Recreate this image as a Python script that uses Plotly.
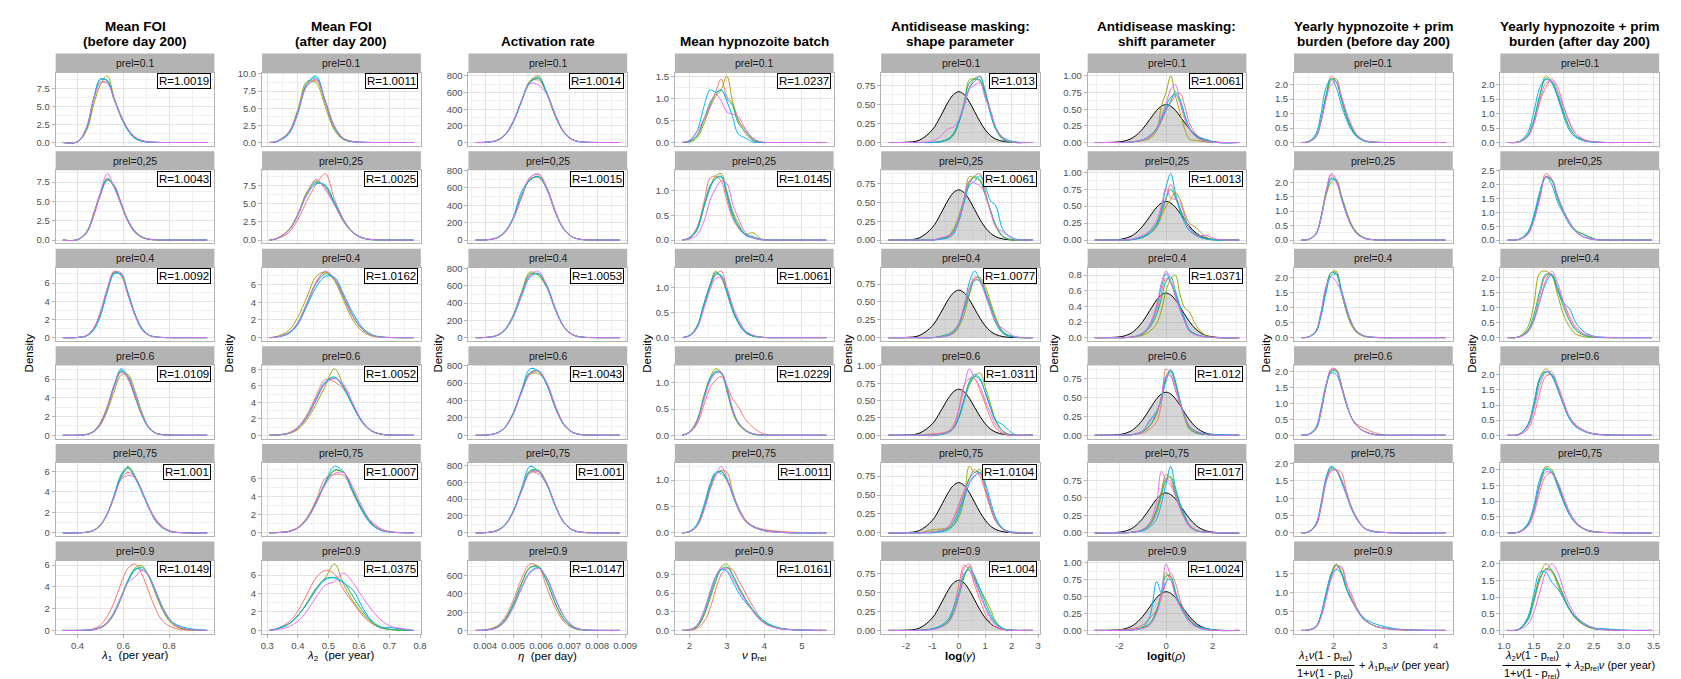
import math
import plotly.graph_objects as go

W, H = 1681, 679
FONT = "Liberation Sans, Arial, sans-serif"
CHAIN_COLORS = ["#F8766D", "#A3A500", "#00BF7D", "#00B0F6", "#E76BF3"]
PREL_LABELS = ["prel=0.1", "prel=0,25", "prel=0.4", "prel=0.6", "prel=0,75", "prel=0.9"]
TITLES = [["Mean FOI", "(before day 200)"], ["Mean FOI", "(after day 200)"],
          ["", "Activation rate"], ["", "Mean hypnozoite batch"],
          ["Antidisease masking:", "shape parameter"], ["Antidisease masking:", "shift parameter"],
          ["Yearly hypnozoite + prim", "burden (before day 200)"],
          ["Yearly hypnozoite + prim", "burden (after day 200)"]]

# ---------------- column 1 : lambda1 ----------------
LAM1_XRANGE = [0.336, 0.966]
LAM1_GRID = [0.40, 0.44, 0.47, 0.50, 0.53, 0.56, 0.59, 0.62, 0.65, 0.68, 0.71, 0.74, 0.77, 0.81, 0.86]
LAM1_DENS = [
    [[0.1, 2.0, 5.9, 8.3, 8.3, 6.1, 3.7, 1.8, 0.7, 0.25, 0.08, 0.02, 0, 0, 0],
     [0.1, 1.7, 5.2, 8.0, 9.2, 6.2, 3.5, 1.7, 0.6, 0.2, 0.05, 0.01, 0, 0, 0],
     [0.1, 2.1, 6.1, 8.7, 8.6, 5.9, 3.5, 1.7, 0.6, 0.2, 0.05, 0.01, 0, 0, 0],
     [0.1, 2.0, 6.0, 8.8, 8.5, 6.0, 3.6, 1.7, 0.6, 0.2, 0.06, 0.01, 0, 0, 0],
     [0.1, 2.2, 6.0, 8.3, 8.2, 5.9, 3.7, 1.9, 0.8, 0.3, 0.1, 0.03, 0, 0, 0]],
    [[0.05, 1.0, 3.0, 5.8, 7.7, 7.1, 4.9, 2.6, 1.2, 0.45, 0.13, 0.04, 0, 0, 0],
     [0.05, 1.1, 3.4, 6.1, 8.0, 6.8, 4.6, 2.4, 1.0, 0.35, 0.1, 0.03, 0, 0, 0],
     [0.05, 1.0, 3.3, 6.0, 7.9, 6.9, 4.7, 2.5, 1.1, 0.4, 0.12, 0.04, 0, 0, 0],
     [0.05, 1.0, 3.3, 6.0, 7.8, 7.0, 4.7, 2.5, 1.1, 0.4, 0.12, 0.04, 0, 0, 0],
     [0.05, 0.9, 3.2, 6.2, 8.6, 6.8, 4.6, 2.4, 1.0, 0.4, 0.12, 0.04, 0, 0, 0]],
    [[0.02, 0.25, 1.0, 2.7, 5.2, 7.2, 7.1, 4.9, 2.6, 1.0, 0.3, 0.08, 0.02, 0, 0],
     [0.02, 0.25, 1.0, 2.8, 5.4, 7.2, 6.8, 4.7, 2.5, 0.9, 0.28, 0.07, 0.02, 0, 0],
     [0.02, 0.2, 0.9, 2.6, 5.2, 7.1, 6.9, 4.8, 2.6, 1.0, 0.3, 0.08, 0.02, 0, 0],
     [0.02, 0.2, 0.8, 2.4, 5.0, 7.0, 7.0, 5.0, 2.7, 1.1, 0.32, 0.08, 0.02, 0, 0],
     [0.02, 0.25, 1.0, 2.8, 5.4, 7.3, 6.9, 4.7, 2.5, 0.95, 0.28, 0.07, 0.02, 0, 0]],
    [[0, 0.1, 0.45, 1.4, 3.1, 5.4, 6.8, 6.0, 4.1, 2.2, 0.85, 0.25, 0.07, 0.01, 0],
     [0, 0.08, 0.35, 1.1, 2.6, 4.7, 6.4, 6.5, 4.8, 2.5, 0.9, 0.25, 0.06, 0.01, 0],
     [0, 0.08, 0.4, 1.25, 3.0, 5.3, 6.9, 6.3, 4.3, 2.2, 0.8, 0.22, 0.06, 0.01, 0],
     [0, 0.08, 0.38, 1.2, 2.9, 5.3, 7.1, 6.2, 4.3, 2.3, 0.85, 0.23, 0.06, 0.01, 0],
     [0, 0.08, 0.38, 1.2, 2.9, 5.1, 6.7, 6.3, 4.5, 2.4, 0.9, 0.25, 0.07, 0.01, 0]],
    [[0, 0.06, 0.25, 0.8, 1.9, 3.6, 5.3, 5.9, 5.5, 4.1, 2.6, 1.4, 0.65, 0.15, 0.02],
     [0, 0.05, 0.22, 0.72, 1.8, 3.5, 5.4, 6.5, 5.6, 4.1, 2.5, 1.2, 0.5, 0.1, 0.01],
     [0, 0.06, 0.24, 0.76, 1.85, 3.6, 5.5, 6.3, 5.5, 4.1, 2.5, 1.25, 0.52, 0.12, 0.01],
     [0, 0.06, 0.24, 0.78, 1.9, 3.7, 5.7, 6.4, 5.4, 4.0, 2.5, 1.2, 0.5, 0.1, 0.01],
     [0, 0.06, 0.24, 0.75, 1.85, 3.5, 5.2, 5.6, 5.4, 4.2, 2.6, 1.3, 0.55, 0.12, 0.01]],
    [[0, 0.04, 0.16, 0.5, 1.3, 2.6, 4.3, 5.7, 6.1, 5.2, 3.6, 2.0, 0.9, 0.3, 0.06],
     [0, 0.01, 0.06, 0.22, 0.63, 1.5, 2.9, 4.5, 5.7, 5.95, 5.0, 3.4, 1.9, 0.65, 0.12],
     [0, 0.02, 0.08, 0.28, 0.72, 1.6, 3.0, 4.5, 5.5, 5.8, 5.0, 3.5, 2.0, 0.75, 0.2],
     [0, 0.02, 0.08, 0.28, 0.75, 1.7, 3.1, 4.6, 5.6, 5.6, 5.0, 3.7, 2.2, 0.85, 0.3],
     [0, 0.02, 0.08, 0.28, 0.72, 1.6, 3.0, 4.4, 4.9, 5.5, 5.1, 3.6, 2.1, 0.8, 0.2]],
]
LAM1_R = [1.0019, 1.0043, 1.0092, 1.0109, 1.001, 1.0149]
LAM1_YSTEP = [2.5, 2.5, 2, 2, 2, 2]
LAM1_XTICKS = [0.4, 0.6, 0.8]
LAM1_XLABELS = ["0.4", "0.6", "0.8"]

# ---------------- column 2 : lambda2 ----------------
LAM2_XRANGE = [0.3065, 0.779]
LAM2_GRID = [0.33, 0.37, 0.40, 0.43, 0.46, 0.49, 0.52, 0.55, 0.58, 0.61, 0.64, 0.67, 0.70, 0.74]
LAM2_DENS = [
    [[0.15, 1.5, 4.6, 8.2, 9.0, 6.1, 2.4, 0.6, 0.15, 0.03, 0, 0, 0, 0],
     [0.15, 1.5, 4.8, 8.9, 8.7, 5.2, 1.8, 0.4, 0.1, 0.02, 0, 0, 0, 0],
     [0.12, 1.3, 4.5, 8.6, 9.4, 5.8, 2.1, 0.5, 0.12, 0.02, 0, 0, 0, 0],
     [0.1, 1.2, 4.2, 8.6, 9.7, 6.0, 2.2, 0.55, 0.13, 0.03, 0, 0, 0, 0],
     [0.15, 1.4, 4.5, 8.3, 9.2, 5.9, 2.3, 0.6, 0.15, 0.03, 0, 0, 0, 0]],
    [[0.15, 1.0, 2.8, 5.4, 7.6, 9.1, 5.6, 2.8, 1.1, 0.35, 0.08, 0.02, 0, 0],
     [0.2, 1.4, 3.6, 6.6, 8.1, 7.2, 4.9, 2.5, 1.0, 0.3, 0.07, 0.02, 0, 0],
     [0.2, 1.3, 3.4, 6.4, 7.9, 7.4, 5.0, 2.6, 1.05, 0.32, 0.07, 0.015, 0, 0],
     [0.2, 1.3, 3.4, 6.2, 7.7, 7.5, 5.2, 2.7, 1.1, 0.33, 0.07, 0.015, 0, 0],
     [0.2, 1.3, 3.5, 6.3, 8.3, 6.9, 4.8, 2.6, 1.05, 0.33, 0.08, 0.02, 0, 0]],
    [[0.08, 0.5, 1.6, 3.8, 6.3, 7.4, 6.7, 4.7, 2.5, 1.0, 0.3, 0.07, 0.02, 0],
     [0.12, 0.8, 2.3, 4.6, 6.9, 7.4, 6.4, 4.2, 2.0, 0.75, 0.2, 0.05, 0.01, 0],
     [0.08, 0.55, 1.7, 3.9, 6.1, 7.2, 6.6, 4.5, 2.4, 1.0, 0.3, 0.07, 0.02, 0],
     [0.06, 0.45, 1.5, 3.6, 5.7, 6.9, 6.8, 4.9, 2.8, 1.2, 0.38, 0.09, 0.02, 0],
     [0.08, 0.55, 1.7, 3.9, 6.2, 7.5, 6.6, 4.5, 2.4, 1.0, 0.3, 0.07, 0.02, 0]],
    [[0.04, 0.3, 1.0, 2.5, 4.8, 6.8, 6.5, 5.6, 3.6, 1.6, 0.55, 0.15, 0.03, 0],
     [0.02, 0.2, 0.7, 1.9, 3.8, 6.0, 8.1, 6.0, 3.7, 1.7, 0.55, 0.13, 0.02, 0],
     [0.03, 0.24, 0.85, 2.2, 4.3, 6.4, 7.1, 5.8, 3.6, 1.65, 0.58, 0.15, 0.03, 0],
     [0.03, 0.25, 0.9, 2.3, 4.5, 6.5, 7.0, 5.8, 3.6, 1.65, 0.57, 0.15, 0.03, 0],
     [0.03, 0.24, 0.85, 2.2, 4.3, 6.3, 6.9, 6.2, 3.9, 1.8, 0.6, 0.16, 0.03, 0]],
    [[0.03, 0.18, 0.6, 1.7, 3.6, 6.0, 6.4, 6.3, 4.4, 2.5, 1.3, 0.5, 0.15, 0.03],
     [0.02, 0.14, 0.52, 1.5, 3.4, 5.4, 6.8, 6.6, 4.7, 2.6, 1.1, 0.35, 0.09, 0.02],
     [0.02, 0.15, 0.55, 1.55, 3.35, 5.5, 6.9, 6.6, 4.6, 2.6, 1.05, 0.33, 0.09, 0.02],
     [0.02, 0.14, 0.54, 1.5, 3.3, 5.6, 7.3, 6.7, 4.5, 2.4, 0.95, 0.3, 0.08, 0.02],
     [0.02, 0.15, 0.54, 1.5, 3.2, 5.3, 6.5, 6.6, 5.0, 2.9, 1.2, 0.38, 0.1, 0.02]],
    [[0.18, 0.9, 2.1, 3.9, 5.7, 6.5, 6.1, 4.4, 3.0, 1.7, 0.8, 0.3, 0.12, 0.04],
     [0.15, 0.7, 1.6, 3.0, 4.6, 5.7, 7.2, 5.0, 3.2, 1.9, 0.85, 0.3, 0.1, 0.03],
     [0.15, 0.7, 1.6, 2.9, 4.4, 5.5, 5.7, 5.2, 3.7, 2.2, 1.0, 0.35, 0.12, 0.03],
     [0.15, 0.7, 1.6, 2.9, 4.5, 5.6, 5.7, 5.1, 4.4, 2.6, 1.1, 0.4, 0.32, 0.15],
     [0.08, 0.4, 1.0, 2.1, 3.6, 4.9, 5.3, 6.2, 5.2, 3.7, 2.3, 1.2, 0.5, 0.2]],
]
LAM2_R = [1.0011, 1.0025, 1.0162, 1.0052, 1.0007, 1.0375]
LAM2_YSTEP = [2.5, 2.5, 2, 2, 2, 2]
LAM2_XTICKS = [0.3, 0.4, 0.5, 0.6, 0.7, 0.8]
LAM2_XLABELS = ["0.3", "0.4", "0.5", "0.6", "0.7", "0.8"]

# ---------------- column 3 : eta ----------------
ETA_XRANGE = [0.003658, 0.008815]
ETA_GRID = [0.0040, 0.0044, 0.0047, 0.0050, 0.0053, 0.0056, 0.0059, 0.0062, 0.0065, 0.0068, 0.0071, 0.0074, 0.0078, 0.0083]
ETA_DENS = [
    [[2, 24, 90, 250, 500, 735, 750, 600, 340, 135, 40, 9, 1, 0],
     [2, 22, 85, 245, 500, 740, 800, 590, 320, 125, 36, 8, 1, 0],
     [2, 24, 90, 250, 505, 730, 770, 585, 320, 128, 38, 8, 1, 0],
     [2, 23, 88, 245, 495, 720, 785, 600, 330, 130, 38, 8, 1, 0],
     [2, 26, 95, 260, 510, 710, 690, 580, 340, 135, 40, 9, 1, 0]],
    [[2, 22, 85, 240, 490, 715, 765, 610, 340, 135, 40, 9, 1, 0],
     [2, 24, 90, 250, 500, 700, 720, 590, 330, 130, 38, 8, 1, 0],
     [2, 25, 95, 255, 520, 690, 730, 590, 325, 128, 38, 8, 1, 0],
     [2, 25, 95, 260, 560, 690, 735, 585, 320, 125, 37, 8, 1, 0],
     [2, 22, 88, 245, 500, 720, 755, 595, 325, 128, 38, 8, 1, 0]],
    [[2, 24, 92, 255, 510, 720, 740, 590, 330, 130, 38, 8, 1, 0],
     [2, 25, 95, 260, 530, 760, 720, 580, 325, 128, 37, 8, 1, 0],
     [2, 24, 92, 258, 520, 740, 725, 585, 330, 130, 38, 8, 1, 0],
     [2, 20, 82, 235, 480, 700, 745, 610, 345, 135, 40, 9, 1, 0],
     [2, 24, 90, 250, 500, 720, 770, 590, 325, 128, 37, 8, 1, 0]],
    [[2, 24, 90, 255, 510, 720, 740, 580, 320, 125, 37, 8, 1, 0],
     [2, 22, 86, 245, 495, 700, 710, 600, 345, 135, 40, 9, 1, 0],
     [2, 24, 90, 252, 505, 720, 735, 590, 330, 130, 38, 8, 1, 0],
     [2, 24, 92, 255, 520, 765, 740, 580, 318, 122, 35, 8, 1, 0],
     [2, 22, 85, 240, 490, 700, 745, 605, 340, 133, 39, 9, 1, 0]],
    [[2, 24, 90, 250, 505, 720, 700, 570, 330, 130, 40, 9, 1, 0],
     [2, 24, 88, 248, 500, 720, 745, 590, 330, 130, 38, 8, 1, 0],
     [2, 25, 92, 255, 510, 740, 735, 580, 325, 128, 37, 8, 1, 0],
     [2, 26, 95, 260, 530, 790, 730, 575, 320, 125, 36, 8, 1, 0],
     [2, 23, 86, 245, 495, 710, 725, 590, 335, 132, 40, 9, 1, 0]],
    [[6, 46, 142, 330, 570, 730, 700, 470, 250, 100, 30, 7, 1, 0],
     [4, 32, 115, 280, 510, 690, 705, 540, 300, 125, 40, 9, 1, 0],
     [4, 35, 120, 290, 520, 690, 695, 540, 300, 125, 40, 9, 1, 0],
     [3, 28, 100, 260, 470, 640, 690, 575, 350, 160, 50, 12, 2, 0],
     [3, 26, 95, 250, 460, 630, 680, 580, 360, 165, 55, 14, 2, 0]],
]
ETA_R = [1.0014, 1.0015, 1.0053, 1.0043, 1.001, 1.0147]
ETA_YSTEP = [200, 200, 200, 200, 200, 200]
ETA_XTICKS = [0.004, 0.005, 0.006, 0.007, 0.008, 0.009]
ETA_XLABELS = ["0.004", "0.005", "0.006", "0.007", "0.008", "0.009"]

# ---------------- column 4 : nu * prel ----------------
NU_XRANGE = [1.806, 5.655]
NU_GRID = [2.0, 2.2, 2.4, 2.55, 2.7, 2.85, 3.0, 3.15, 3.3, 3.5, 3.7, 3.9, 4.1, 4.4, 4.8]
NU_DENS = [
    [[0.02, 0.15, 0.55, 0.85, 1.15, 1.45, 1.05, 0.9, 0.55, 0.2, 0.05, 0, 0, 0, 0],
     [0.01, 0.1, 0.45, 0.8, 1.05, 1.2, 1.52, 0.95, 0.5, 0.3, 0.08, 0.01, 0, 0, 0],
     [0.02, 0.15, 0.55, 0.9, 1.1, 1.2, 1.0, 0.85, 0.45, 0.25, 0.05, 0, 0, 0, 0],
     [0.03, 0.25, 0.85, 1.2, 1.15, 1.2, 0.95, 0.6, 0.2, 0.1, 0.01, 0, 0, 0, 0],
     [0.05, 0.25, 0.55, 0.8, 1.1, 0.95, 0.7, 0.65, 0.6, 0.3, 0.1, 0.02, 0, 0, 0]],
    [[0.05, 0.25, 0.8, 1.25, 1.3, 1.2, 0.8, 0.45, 0.25, 0.1, 0.05, 0.01, 0, 0, 0],
     [0.03, 0.2, 0.7, 1.05, 1.3, 1.35, 1.0, 0.6, 0.35, 0.12, 0.15, 0.03, 0, 0, 0],
     [0.04, 0.22, 0.72, 1.1, 1.25, 1.28, 0.95, 0.55, 0.3, 0.12, 0.07, 0.02, 0, 0, 0],
     [0.04, 0.2, 0.7, 1.05, 1.25, 1.3, 0.9, 0.5, 0.28, 0.1, 0.04, 0.01, 0, 0, 0],
     [0.02, 0.1, 0.4, 0.8, 1.05, 1.2, 1.15, 0.75, 0.45, 0.15, 0.05, 0.01, 0, 0, 0]],
    [[0.04, 0.2, 0.65, 1.0, 1.25, 1.33, 1.0, 0.6, 0.33, 0.12, 0.04, 0.01, 0, 0, 0],
     [0.04, 0.22, 0.7, 1.05, 1.33, 1.2, 0.9, 0.55, 0.3, 0.1, 0.03, 0.01, 0, 0, 0],
     [0.04, 0.22, 0.7, 1.05, 1.3, 1.22, 0.92, 0.55, 0.3, 0.1, 0.03, 0.01, 0, 0, 0],
     [0.04, 0.2, 0.68, 1.02, 1.27, 1.25, 0.95, 0.58, 0.32, 0.11, 0.04, 0.01, 0, 0, 0],
     [0.03, 0.18, 0.6, 0.95, 1.18, 1.2, 1.0, 0.65, 0.38, 0.14, 0.05, 0.01, 0, 0, 0]],
    [[0.05, 0.2, 0.6, 0.9, 1.05, 1.12, 0.95, 0.7, 0.55, 0.3, 0.15, 0.05, 0.01, 0, 0],
     [0.06, 0.28, 0.78, 1.1, 1.27, 1.2, 0.85, 0.45, 0.22, 0.08, 0.02, 0, 0, 0, 0],
     [0.06, 0.26, 0.75, 1.08, 1.22, 1.2, 0.88, 0.48, 0.24, 0.09, 0.02, 0, 0, 0, 0],
     [0.05, 0.26, 0.74, 1.07, 1.2, 1.18, 0.9, 0.5, 0.25, 0.1, 0.03, 0.01, 0, 0, 0],
     [0.05, 0.24, 0.7, 1.02, 1.18, 1.2, 0.95, 0.52, 0.26, 0.1, 0.03, 0.01, 0, 0, 0]],
    [[0.02, 0.12, 0.48, 0.85, 1.1, 1.18, 1.0, 0.75, 0.5, 0.25, 0.13, 0.08, 0.05, 0.03, 0.01],
     [0.02, 0.12, 0.45, 0.82, 1.1, 1.18, 1.15, 0.8, 0.48, 0.22, 0.12, 0.06, 0.03, 0.01, 0],
     [0.02, 0.14, 0.5, 0.88, 1.12, 1.16, 1.02, 0.75, 0.47, 0.22, 0.12, 0.06, 0.03, 0.01, 0],
     [0.03, 0.16, 0.55, 0.92, 1.15, 1.12, 1.0, 0.72, 0.45, 0.22, 0.11, 0.06, 0.03, 0.01, 0],
     [0.02, 0.12, 0.45, 0.8, 1.08, 1.26, 1.05, 0.75, 0.47, 0.22, 0.12, 0.06, 0.03, 0.01, 0]],
    [[0, 0.03, 0.15, 0.35, 0.65, 0.9, 1.0, 0.98, 0.82, 0.6, 0.38, 0.2, 0.1, 0.04, 0.01],
     [0.01, 0.05, 0.25, 0.5, 0.78, 1.02, 1.07, 0.9, 0.72, 0.5, 0.32, 0.17, 0.09, 0.03, 0.01],
     [0.01, 0.06, 0.27, 0.55, 0.8, 0.98, 1.02, 0.9, 0.72, 0.5, 0.32, 0.17, 0.09, 0.03, 0.01],
     [0.01, 0.08, 0.32, 0.6, 0.85, 0.98, 0.95, 0.8, 0.62, 0.45, 0.32, 0.2, 0.11, 0.04, 0.01],
     [0.01, 0.08, 0.33, 0.62, 0.87, 1.0, 0.97, 0.85, 0.68, 0.48, 0.3, 0.16, 0.08, 0.03, 0.01]],
]
NU_R = [1.0237, 1.0145, 1.0061, 1.0229, 1.0011, 1.0161]
NU_YSTEP = [0.5, 0.5, 0.5, 0.5, 0.5, 0.3]
NU_XTICKS = [2, 3, 4, 5]
NU_XLABELS = ["2", "3", "4", "5"]

# ---------------- column 5 : log(gamma) ----------------
GAM_XRANGE = [-2.664, 2.8]
GAM_GRID = [-2.0, -1.5, -1.0, -0.7, -0.4, -0.2, 0, 0.2, 0.4, 0.6, 0.8, 1.0, 1.2, 1.4, 1.7, 2.1, 2.5]
GAM_PRIOR = [0.003, 0.029, 0.166, 0.337, 0.532, 0.628, 0.665, 0.628, 0.532, 0.403, 0.274, 0.166, 0.090, 0.044, 0.013, 0.0014, 0.0001]
GAM_DENS = [
    [[0, 0, 0, 0.01, 0.05, 0.12, 0.27, 0.48, 0.7, 0.84, 0.86, 0.68, 0.4, 0.18, 0.04, 0, 0],
     [0, 0, 0, 0.01, 0.04, 0.1, 0.25, 0.5, 0.82, 0.83, 0.8, 0.65, 0.42, 0.2, 0.04, 0, 0],
     [0, 0, 0, 0.01, 0.05, 0.12, 0.28, 0.52, 0.78, 0.83, 0.82, 0.62, 0.38, 0.17, 0.03, 0, 0],
     [0, 0, 0, 0.01, 0.04, 0.1, 0.26, 0.48, 0.72, 0.8, 0.87, 0.66, 0.38, 0.18, 0.06, 0.01, 0],
     [0, 0, 0.02, 0.08, 0.18, 0.2, 0.3, 0.5, 0.7, 0.75, 0.78, 0.58, 0.42, 0.2, 0.05, 0, 0]],
    [[0, 0, 0, 0.02, 0.04, 0.1, 0.25, 0.5, 0.78, 0.85, 0.88, 0.65, 0.38, 0.18, 0.04, 0, 0],
     [0, 0, 0, 0.02, 0.05, 0.15, 0.32, 0.56, 0.84, 0.82, 0.78, 0.6, 0.38, 0.18, 0.04, 0, 0],
     [0, 0, 0, 0.02, 0.05, 0.12, 0.28, 0.52, 0.75, 0.84, 0.8, 0.6, 0.4, 0.2, 0.04, 0, 0],
     [0, 0, 0, 0.01, 0.03, 0.08, 0.25, 0.5, 0.72, 0.78, 0.85, 0.72, 0.52, 0.45, 0.12, 0.02, 0],
     [0, 0, 0, 0.03, 0.06, 0.1, 0.28, 0.55, 0.78, 0.75, 0.72, 0.6, 0.38, 0.18, 0.1, 0.01, 0]],
    [[0, 0, 0, 0.01, 0.03, 0.08, 0.18, 0.4, 0.68, 0.85, 0.82, 0.66, 0.42, 0.22, 0.06, 0.01, 0],
     [0, 0, 0, 0.01, 0.03, 0.06, 0.15, 0.32, 0.6, 0.82, 0.84, 0.72, 0.5, 0.28, 0.07, 0.01, 0],
     [0, 0, 0, 0.02, 0.05, 0.1, 0.2, 0.4, 0.62, 0.8, 0.8, 0.65, 0.45, 0.25, 0.07, 0.01, 0],
     [0, 0, 0, 0.01, 0.03, 0.07, 0.18, 0.42, 0.78, 0.93, 0.8, 0.62, 0.4, 0.2, 0.05, 0.01, 0],
     [0, 0, 0, 0.01, 0.03, 0.08, 0.2, 0.45, 0.7, 0.82, 0.78, 0.6, 0.4, 0.22, 0.12, 0.02, 0]],
    [[0, 0, 0.02, 0.03, 0.06, 0.15, 0.38, 0.72, 0.82, 0.82, 0.65, 0.45, 0.25, 0.1, 0.02, 0, 0],
     [0, 0, 0, 0.01, 0.04, 0.1, 0.25, 0.5, 0.72, 0.85, 0.9, 0.7, 0.45, 0.22, 0.05, 0, 0],
     [0, 0, 0, 0.01, 0.05, 0.11, 0.27, 0.52, 0.75, 0.85, 0.8, 0.62, 0.4, 0.2, 0.05, 0, 0],
     [0, 0, 0, 0.01, 0.04, 0.1, 0.25, 0.5, 0.78, 0.88, 0.82, 0.62, 0.4, 0.22, 0.14, 0.01, 0],
     [0, 0, 0, 0.02, 0.05, 0.12, 0.35, 0.7, 0.96, 0.82, 0.7, 0.5, 0.32, 0.15, 0.03, 0, 0]],
    [[0, 0, 0.01, 0.03, 0.08, 0.2, 0.38, 0.56, 0.72, 0.84, 0.75, 0.55, 0.32, 0.15, 0.04, 0, 0],
     [0, 0, 0.04, 0.05, 0.06, 0.1, 0.2, 0.45, 0.88, 0.8, 0.84, 0.6, 0.35, 0.16, 0.04, 0, 0],
     [0, 0, 0.01, 0.02, 0.06, 0.14, 0.3, 0.5, 0.72, 0.8, 0.8, 0.6, 0.36, 0.17, 0.04, 0, 0],
     [0, 0, 0, 0.01, 0.04, 0.1, 0.25, 0.45, 0.65, 0.75, 0.8, 0.66, 0.42, 0.2, 0.05, 0.01, 0],
     [0, 0, 0.01, 0.03, 0.08, 0.18, 0.35, 0.52, 0.68, 0.76, 0.78, 0.6, 0.36, 0.16, 0.04, 0, 0]],
    [[0, 0, 0.02, 0.05, 0.12, 0.3, 0.6, 0.86, 0.8, 0.6, 0.4, 0.22, 0.1, 0.04, 0.01, 0, 0],
     [0, 0, 0.02, 0.05, 0.12, 0.25, 0.45, 0.7, 0.85, 0.7, 0.55, 0.42, 0.28, 0.12, 0.02, 0, 0],
     [0, 0, 0.02, 0.05, 0.12, 0.24, 0.45, 0.72, 0.83, 0.72, 0.55, 0.38, 0.22, 0.1, 0.02, 0, 0],
     [0, 0, 0.02, 0.06, 0.15, 0.3, 0.5, 0.75, 0.8, 0.68, 0.5, 0.32, 0.18, 0.08, 0.02, 0, 0],
     [0, 0, 0.01, 0.04, 0.1, 0.22, 0.45, 0.82, 0.88, 0.65, 0.47, 0.3, 0.15, 0.06, 0.01, 0, 0]],
]
GAM_R = [1.013, 1.0061, 1.0077, 1.0311, 1.0104, 1.004]
GAM_YSTEP = [0.25, 0.25, 0.25, 0.25, 0.25, 0.25]
GAM_XTICKS = [-2, -1, 0, 1, 2, 3]
GAM_XLABELS = ["-2", "-1", "0", "1", "2", "3"]

# ---------------- column 6 : logit(rho) ----------------
RHO_XRANGE = [-3.055, 3.135]
RHO_GRID = [-2.4, -1.8, -1.4, -1.0, -0.7, -0.4, -0.2, 0, 0.2, 0.4, 0.6, 0.8, 1.0, 1.3, 1.7, 2.2]
RHO_PRIOR = [0.0016, 0.021, 0.077, 0.206, 0.346, 0.484, 0.547, 0.570, 0.547, 0.484, 0.395, 0.297, 0.206, 0.101, 0.030, 0.004]
RHO_DENS = [
    [[0, 0, 0.01, 0.04, 0.08, 0.18, 0.32, 0.48, 0.6, 0.7, 0.74, 0.55, 0.3, 0.12, 0.03, 0],
     [0, 0, 0.01, 0.03, 0.06, 0.18, 0.55, 0.75, 1.0, 0.7, 0.45, 0.2, 0.05, 0.03, 0.01, 0],
     [0, 0, 0.01, 0.04, 0.1, 0.22, 0.38, 0.55, 0.68, 0.72, 0.6, 0.4, 0.22, 0.08, 0.02, 0],
     [0, 0, 0.01, 0.04, 0.1, 0.2, 0.34, 0.5, 0.62, 0.76, 0.65, 0.42, 0.22, 0.1, 0.05, 0],
     [0, 0, 0.01, 0.04, 0.09, 0.2, 0.38, 0.58, 0.8, 0.87, 0.6, 0.35, 0.2, 0.08, 0.02, 0]],
    [[0, 0, 0.01, 0.05, 0.1, 0.2, 0.38, 0.6, 0.82, 0.65, 0.48, 0.3, 0.18, 0.08, 0.02, 0],
     [0, 0, 0.01, 0.04, 0.1, 0.2, 0.35, 0.5, 0.6, 0.7, 0.6, 0.4, 0.25, 0.18, 0.05, 0],
     [0, 0, 0.01, 0.05, 0.12, 0.25, 0.42, 0.62, 0.75, 0.62, 0.45, 0.3, 0.18, 0.08, 0.02, 0],
     [0, 0, 0.01, 0.04, 0.1, 0.22, 0.45, 0.78, 0.98, 0.7, 0.42, 0.25, 0.14, 0.06, 0.02, 0],
     [0, 0, 0.02, 0.07, 0.14, 0.3, 0.5, 0.77, 0.62, 0.6, 0.55, 0.35, 0.18, 0.06, 0.07, 0.01]],
    [[0, 0, 0.01, 0.05, 0.15, 0.35, 0.58, 0.76, 0.72, 0.55, 0.38, 0.22, 0.1, 0.04, 0.01, 0],
     [0, 0, 0.01, 0.03, 0.08, 0.18, 0.35, 0.6, 0.75, 0.8, 0.55, 0.38, 0.33, 0.15, 0.03, 0],
     [0, 0, 0.01, 0.05, 0.13, 0.3, 0.5, 0.72, 0.78, 0.6, 0.4, 0.22, 0.1, 0.04, 0.01, 0],
     [0, 0, 0.01, 0.06, 0.16, 0.4, 0.65, 0.82, 0.7, 0.55, 0.4, 0.24, 0.1, 0.04, 0.01, 0],
     [0, 0, 0.01, 0.06, 0.17, 0.42, 0.7, 0.85, 0.72, 0.52, 0.35, 0.2, 0.08, 0.03, 0.01, 0]],
    [[0, 0, 0.01, 0.03, 0.08, 0.18, 0.42, 0.88, 0.8, 0.6, 0.4, 0.25, 0.12, 0.04, 0.01, 0],
     [0, 0, 0.01, 0.05, 0.12, 0.28, 0.5, 0.78, 0.86, 0.72, 0.45, 0.22, 0.08, 0.03, 0.01, 0],
     [0, 0, 0.01, 0.05, 0.13, 0.3, 0.5, 0.75, 0.84, 0.68, 0.45, 0.25, 0.1, 0.03, 0.01, 0],
     [0, 0, 0.01, 0.06, 0.2, 0.32, 0.48, 0.72, 0.87, 0.7, 0.45, 0.25, 0.12, 0.05, 0.02, 0.01],
     [0, 0, 0.01, 0.06, 0.18, 0.3, 0.52, 0.78, 0.78, 0.62, 0.42, 0.25, 0.12, 0.05, 0.01, 0]],
    [[0, 0, 0.01, 0.04, 0.1, 0.28, 0.55, 0.78, 0.72, 0.55, 0.38, 0.24, 0.12, 0.04, 0.01, 0],
     [0, 0, 0.01, 0.04, 0.12, 0.35, 0.6, 0.83, 0.78, 0.55, 0.35, 0.2, 0.09, 0.03, 0.01, 0],
     [0, 0, 0.01, 0.04, 0.12, 0.32, 0.55, 0.75, 0.8, 0.6, 0.4, 0.22, 0.1, 0.03, 0.01, 0],
     [0, 0, 0.01, 0.03, 0.08, 0.2, 0.42, 0.7, 0.95, 0.65, 0.42, 0.25, 0.1, 0.03, 0.01, 0],
     [0, 0, 0.01, 0.05, 0.15, 0.45, 0.88, 0.75, 0.68, 0.52, 0.35, 0.2, 0.09, 0.03, 0.01, 0]],
    [[0, 0.01, 0.03, 0.08, 0.18, 0.3, 0.48, 0.7, 0.84, 0.7, 0.45, 0.28, 0.18, 0.07, 0.02, 0],
     [0, 0, 0.01, 0.04, 0.1, 0.28, 0.55, 0.85, 0.75, 0.55, 0.38, 0.25, 0.16, 0.07, 0.02, 0],
     [0, 0, 0.01, 0.04, 0.1, 0.3, 0.55, 0.8, 0.8, 0.58, 0.38, 0.25, 0.15, 0.06, 0.02, 0],
     [0, 0, 0.01, 0.05, 0.2, 0.72, 0.55, 0.72, 0.75, 0.55, 0.38, 0.25, 0.15, 0.07, 0.03, 0],
     [0, 0, 0.01, 0.03, 0.08, 0.25, 0.55, 0.98, 0.78, 0.5, 0.35, 0.22, 0.12, 0.05, 0.01, 0]],
]
RHO_R = [1.0061, 1.0013, 1.0371, 1.012, 1.017, 1.0024]
RHO_YSTEP = [0.25, 0.25, 0.2, 0.25, 0.25, 0.25]
RHO_XTICKS = [-2, 0, 2]
RHO_XLABELS = ["-2", "0", "2"]

# ---------------- column 7 : burden before day 200 ----------------
BUR1_XRANGE = [1.362, 4.195]
BUR1_GRID = [1.5, 1.65, 1.75, 1.85, 1.95, 2.05, 2.15, 2.25, 2.35, 2.45, 2.6, 2.8, 3.0, 3.3]
BUR1_DENS = [
    [[0.02, 0.2, 0.75, 1.6, 2.3, 2.1, 1.5, 0.9, 0.5, 0.25, 0.07, 0.01, 0, 0],
     [0.02, 0.18, 0.7, 1.5, 2.15, 2.2, 1.6, 1.0, 0.55, 0.25, 0.06, 0.01, 0, 0],
     [0.02, 0.22, 0.8, 1.65, 2.2, 2.1, 1.5, 0.9, 0.48, 0.22, 0.06, 0.01, 0, 0],
     [0.03, 0.3, 1.0, 1.9, 2.2, 1.9, 1.3, 0.78, 0.42, 0.2, 0.05, 0.01, 0, 0],
     [0.02, 0.2, 0.72, 1.5, 2.0, 2.1, 1.6, 1.05, 0.6, 0.28, 0.08, 0.01, 0, 0]],
    [[0.02, 0.22, 0.8, 1.7, 2.25, 2.0, 1.45, 0.9, 0.48, 0.25, 0.07, 0.01, 0, 0],
     [0.02, 0.2, 0.75, 1.55, 2.0, 2.1, 1.55, 1.0, 0.55, 0.28, 0.08, 0.01, 0, 0],
     [0.02, 0.2, 0.75, 1.6, 2.1, 2.05, 1.5, 0.95, 0.5, 0.25, 0.07, 0.01, 0, 0],
     [0.02, 0.22, 0.8, 1.65, 2.15, 2.05, 1.45, 0.9, 0.48, 0.23, 0.06, 0.01, 0, 0],
     [0.02, 0.2, 0.75, 1.65, 2.3, 2.1, 1.45, 0.9, 0.48, 0.23, 0.06, 0.01, 0, 0]],
    [[0.02, 0.22, 0.8, 1.65, 2.15, 2.15, 1.5, 0.9, 0.45, 0.2, 0.05, 0.01, 0, 0],
     [0.02, 0.2, 0.78, 1.6, 2.15, 2.2, 1.5, 0.85, 0.4, 0.17, 0.04, 0, 0, 0],
     [0.02, 0.22, 0.8, 1.65, 2.15, 2.1, 1.5, 0.9, 0.45, 0.2, 0.05, 0.01, 0, 0],
     [0.02, 0.18, 0.7, 1.5, 2.05, 2.1, 1.6, 1.0, 0.5, 0.22, 0.06, 0.01, 0, 0],
     [0.02, 0.22, 0.85, 1.7, 2.0, 1.85, 1.5, 0.95, 0.5, 0.22, 0.06, 0.01, 0, 0]],
    [[0.02, 0.2, 0.75, 1.55, 2.05, 2.05, 1.5, 0.95, 0.55, 0.35, 0.22, 0.08, 0.01, 0],
     [0.02, 0.18, 0.7, 1.5, 2.0, 2.05, 1.6, 1.0, 0.55, 0.3, 0.12, 0.02, 0, 0],
     [0.02, 0.2, 0.75, 1.55, 2.0, 2.0, 1.55, 0.98, 0.55, 0.3, 0.12, 0.02, 0, 0],
     [0.03, 0.25, 0.85, 1.6, 1.95, 1.9, 1.5, 0.95, 0.55, 0.3, 0.12, 0.02, 0, 0],
     [0.02, 0.2, 0.75, 1.55, 2.08, 2.05, 1.55, 1.0, 0.55, 0.3, 0.12, 0.02, 0, 0]],
    [[0.02, 0.2, 0.7, 1.45, 1.78, 1.82, 1.75, 1.2, 0.75, 0.45, 0.15, 0.04, 0.01, 0],
     [0.02, 0.22, 0.75, 1.5, 1.85, 1.82, 1.55, 1.15, 0.72, 0.42, 0.14, 0.04, 0.01, 0],
     [0.02, 0.24, 0.8, 1.55, 1.9, 1.8, 1.5, 1.1, 0.7, 0.4, 0.13, 0.03, 0.01, 0],
     [0.03, 0.26, 0.85, 1.6, 1.92, 1.8, 1.48, 1.08, 0.68, 0.4, 0.13, 0.03, 0.01, 0],
     [0.02, 0.22, 0.75, 1.5, 1.82, 1.8, 1.55, 1.12, 0.72, 0.42, 0.14, 0.04, 0.01, 0]],
    [[0.01, 0.08, 0.35, 0.85, 1.4, 1.7, 1.65, 1.2, 0.95, 0.6, 0.3, 0.12, 0.05, 0.01],
     [0.01, 0.1, 0.4, 0.95, 1.5, 1.75, 1.55, 1.1, 0.8, 0.55, 0.28, 0.12, 0.06, 0.02],
     [0.01, 0.1, 0.4, 0.95, 1.48, 1.72, 1.5, 1.08, 0.8, 0.55, 0.28, 0.12, 0.06, 0.02],
     [0.01, 0.1, 0.42, 1.0, 1.45, 1.6, 1.5, 1.1, 0.82, 0.58, 0.32, 0.18, 0.1, 0.03],
     [0.01, 0.08, 0.35, 0.85, 1.35, 1.62, 1.68, 1.25, 0.85, 0.55, 0.28, 0.12, 0.06, 0.02]],
]
BUR1_YSTEP = [0.5, 0.5, 0.5, 0.5, 0.5, 0.5]
BUR1_XTICKS = [2, 3, 4]
BUR1_XLABELS = ["2", "3", "4"]

# ---------------- column 8 : burden after day 200 ----------------
BUR2_XRANGE = [1.062, 3.474]
BUR2_GRID = [1.25, 1.4, 1.5, 1.6, 1.7, 1.8, 1.9, 2.0, 2.1, 2.2, 2.35, 2.5, 2.7, 3.0]
BUR2_DENS = [
    [[0.02, 0.2, 0.65, 1.4, 1.9, 2.2, 1.9, 1.25, 0.65, 0.3, 0.1, 0.03, 0, 0],
     [0.02, 0.25, 0.75, 1.6, 2.3, 2.1, 1.6, 1.0, 0.5, 0.22, 0.06, 0.02, 0, 0],
     [0.02, 0.25, 0.78, 1.65, 2.2, 2.1, 1.65, 1.05, 0.5, 0.22, 0.06, 0.02, 0, 0],
     [0.03, 0.35, 1.05, 1.9, 2.2, 2.05, 1.55, 0.9, 0.4, 0.18, 0.05, 0.01, 0, 0],
     [0.02, 0.2, 0.65, 1.45, 2.05, 2.15, 1.75, 1.2, 0.7, 0.3, 0.08, 0.02, 0, 0]],
    [[0.02, 0.2, 0.7, 1.5, 2.4, 2.2, 1.5, 1.0, 0.6, 0.3, 0.1, 0.02, 0, 0],
     [0.02, 0.25, 0.8, 1.65, 2.25, 2.15, 1.55, 1.05, 0.65, 0.35, 0.2, 0.05, 0, 0],
     [0.02, 0.25, 0.8, 1.65, 2.3, 2.15, 1.5, 1.0, 0.62, 0.35, 0.18, 0.04, 0, 0],
     [0.03, 0.3, 0.9, 1.75, 2.3, 2.0, 1.35, 0.95, 0.55, 0.3, 0.1, 0.02, 0, 0],
     [0.02, 0.22, 0.7, 1.5, 2.3, 2.2, 1.6, 1.05, 0.62, 0.3, 0.1, 0.02, 0, 0]],
    [[0.02, 0.2, 0.6, 1.4, 2.05, 2.1, 1.65, 1.15, 0.7, 0.35, 0.1, 0.02, 0, 0],
     [0.03, 0.35, 1.1, 2.15, 2.2, 2.05, 1.4, 0.75, 0.35, 0.12, 0.03, 0.01, 0, 0],
     [0.02, 0.25, 0.75, 1.55, 2.1, 2.05, 1.55, 1.0, 0.55, 0.25, 0.07, 0.02, 0, 0],
     [0.02, 0.2, 0.6, 1.2, 1.8, 2.1, 1.6, 1.15, 0.95, 0.5, 0.18, 0.05, 0.01, 0],
     [0.02, 0.18, 0.55, 1.2, 1.9, 2.2, 1.8, 1.15, 0.6, 0.3, 0.12, 0.04, 0.01, 0]],
    [[0.02, 0.2, 0.65, 1.4, 1.95, 2.0, 1.65, 1.1, 0.6, 0.35, 0.15, 0.05, 0.01, 0],
     [0.03, 0.35, 1.05, 1.9, 2.2, 2.0, 1.55, 1.0, 0.55, 0.3, 0.12, 0.04, 0.01, 0],
     [0.03, 0.3, 0.95, 1.8, 2.1, 2.0, 1.55, 1.0, 0.55, 0.3, 0.12, 0.04, 0.01, 0],
     [0.03, 0.35, 1.05, 1.9, 2.12, 1.95, 1.5, 0.98, 0.52, 0.28, 0.13, 0.05, 0.02, 0],
     [0.02, 0.28, 0.85, 1.65, 2.08, 2.1, 1.6, 1.05, 0.58, 0.32, 0.14, 0.05, 0.01, 0]],
    [[0.02, 0.2, 0.6, 1.3, 1.8, 1.9, 1.6, 1.1, 0.65, 0.35, 0.12, 0.04, 0.01, 0],
     [0.02, 0.25, 0.72, 1.55, 2.1, 2.0, 1.5, 1.0, 0.58, 0.3, 0.1, 0.03, 0.01, 0],
     [0.02, 0.25, 0.75, 1.55, 2.0, 1.95, 1.55, 1.02, 0.6, 0.32, 0.11, 0.03, 0.01, 0],
     [0.03, 0.3, 0.85, 1.7, 2.05, 1.9, 1.45, 0.95, 0.55, 0.3, 0.12, 0.04, 0.01, 0],
     [0.02, 0.22, 0.68, 1.45, 1.92, 1.88, 1.6, 1.08, 0.62, 0.32, 0.12, 0.04, 0.01, 0]],
    [[0.03, 0.3, 0.85, 1.5, 1.85, 1.75, 1.45, 1.05, 0.65, 0.4, 0.18, 0.06, 0.02, 0],
     [0.03, 0.35, 0.95, 1.65, 2.0, 1.8, 1.35, 0.95, 0.6, 0.35, 0.15, 0.05, 0.02, 0],
     [0.03, 0.32, 0.9, 1.55, 1.85, 1.8, 1.45, 1.0, 0.62, 0.37, 0.16, 0.05, 0.02, 0],
     [0.04, 0.4, 1.1, 1.75, 1.75, 1.45, 1.25, 0.95, 0.62, 0.4, 0.2, 0.08, 0.05, 0.01],
     [0.02, 0.18, 0.55, 1.15, 1.75, 2.0, 1.75, 1.2, 0.75, 0.45, 0.2, 0.07, 0.02, 0]],
]
BUR2_YSTEP = [0.5, 0.5, 0.5, 0.5, 0.5, 0.5]
BUR2_XTICKS = [1.0, 1.5, 2.0, 2.5, 3.0, 3.5]
BUR2_XLABELS = ["1.0", "1.5", "2.0", "2.5", "3.0", "3.5"]

X_TITLES = ["<i>λ</i><sub>1</sub>\u00a0 (per year)", "<i>λ</i><sub>2</sub>\u00a0 (per year)",
            "<i>η</i>\u00a0 (per day)", "<i>ν</i> p<sub>rel</sub>",
            "<b>log</b>(<i>γ</i>)", "<b>logit</b>(<i>ρ</i>)", None, None]
FRAC_NUM = ["<i>λ</i><sub>1</sub><i>ν</i>(1 - p<sub>rel</sub>)", "<i>λ</i><sub>2</sub><i>ν</i>(1 - p<sub>rel</sub>)"]
FRAC_DEN = "1+<i>ν</i>(1 - p<sub>rel</sub>)"
FRAC_REST = ["+ <i>λ</i><sub>1</sub>p<sub>rel</sub><i>ν</i> (per year)", "+ <i>λ</i><sub>2</sub>p<sub>rel</sub><i>ν</i> (per year)"]

COLUMNS = [
    dict(xr=LAM1_XRANGE, grid=LAM1_GRID, dens=LAM1_DENS, prior=None, r=LAM1_R, ystep=LAM1_YSTEP, xt=LAM1_XTICKS, xl=LAM1_XLABELS, dens_off=26.7),
    dict(xr=LAM2_XRANGE, grid=LAM2_GRID, dens=LAM2_DENS, prior=None, r=LAM2_R, ystep=LAM2_YSTEP, xt=LAM2_XTICKS, xl=LAM2_XLABELS, dens_off=33),
    dict(xr=ETA_XRANGE, grid=ETA_GRID, dens=ETA_DENS, prior=None, r=ETA_R, ystep=ETA_YSTEP, xt=ETA_XTICKS, xl=ETA_XLABELS, dens_off=30.3),
    dict(xr=NU_XRANGE, grid=NU_GRID, dens=NU_DENS, prior=None, r=NU_R, ystep=NU_YSTEP, xt=NU_XTICKS, xl=NU_XLABELS, dens_off=27.6),
    dict(xr=GAM_XRANGE, grid=GAM_GRID, dens=GAM_DENS, prior=GAM_PRIOR, r=GAM_R, ystep=GAM_YSTEP, xt=GAM_XTICKS, xl=GAM_XLABELS, dens_off=33),
    dict(xr=RHO_XRANGE, grid=RHO_GRID, dens=RHO_DENS, prior=RHO_PRIOR, r=RHO_R, ystep=RHO_YSTEP, xt=RHO_XTICKS, xl=RHO_XLABELS, dens_off=33.3),
    dict(xr=BUR1_XRANGE, grid=BUR1_GRID, dens=BUR1_DENS, prior=None, r=None, ystep=BUR1_YSTEP, xt=BUR1_XTICKS, xl=BUR1_XLABELS, dens_off=28),
    dict(xr=BUR2_XRANGE, grid=BUR2_GRID, dens=BUR2_DENS, prior=None, r=None, ystep=BUR2_YSTEP, xt=BUR2_XTICKS, xl=BUR2_XLABELS, dens_off=28),
]

# ---------------- geometry (pixels) ----------------
COL_LEFT0, COL_PITCH, PANEL_W = 45, 208, 160
ROW_TOP0, ROW_PITCH, STRIP_H, PANEL_B = 41, 98.6, 19.3, 93.2
GRID_MAJOR, GRID_MINOR, BORDER = "#E3E3E3", "#F0F0F0", "#B3B3B3"


def fx(p):
    return p / W


def fy(p):
    return 1 - p / H


def decimals(step):
    d = 0
    while abs(step * 10 ** d - round(step * 10 ** d)) > 1e-9 and d < 6:
        d += 1
    return d


def major_ticks(lo, hi, step):
    k0 = math.ceil(lo / step - 1e-9)
    k1 = math.floor(hi / step + 1e-9)
    return [round(k * step, 10) for k in range(k0, k1 + 1)]


def minor_ticks(lo, hi, step):
    k0 = math.floor(lo / step) - 1
    k1 = math.ceil(hi / step) + 1
    vals = [round((k + 0.5) * step, 10) for k in range(k0, k1)]
    return [v for v in vals if lo <= v <= hi]


fig = go.Figure()
layout = dict(width=W, height=H, margin=dict(l=0, r=0, t=0, b=0), autosize=False,
              paper_bgcolor="white", plot_bgcolor="white", showlegend=False,
              font=dict(family=FONT))
annotations = []
shapes = []

for c, col in enumerate(COLUMNS):
    L = COL_LEFT0 + COL_PITCH * c
    R = L + PANEL_W
    xlo, xhi = col["xr"]
    xw = xhi - xlo
    xrange_ = [xlo - 0.05 * xw, xhi + 0.05 * xw]
    xstep = col["xt"][1] - col["xt"][0]
    xminor = minor_ticks(xrange_[0], xrange_[1], xstep)
    xs = [xlo] + list(col["grid"]) + [xhi]

    # column title
    for li, line in enumerate(TITLES[c]):
        if line:
            annotations.append(dict(x=fx(L + PANEL_W / 2), y=fy(13.3 + 15 * li), xref="paper", yref="paper",
                                    text="<b>%s</b>" % line, showarrow=False, xanchor="center", yanchor="middle",
                                    font=dict(size=13.5, color="black", family=FONT)))
    # Density label
    annotations.append(dict(x=fx(L - col["dens_off"]), y=fy(343.8), xref="paper", yref="paper",
                            text="Density", textangle=-90, showarrow=False, xanchor="center", yanchor="middle",
                            font=dict(size=11.5, color="black", family=FONT)))

    for r in range(6):
        k = r * 8 + c + 1
        S = ROW_TOP0 + ROW_PITCH * r
        ptop, pbot = S + STRIP_H, S + PANEL_B
        xa = "x" if k == 1 else "x%d" % k
        ya = "y" if k == 1 else "y%d" % k
        dens = col["dens"][r]
        ymax = max(max(ch) for ch in dens)
        if col["prior"] is not None:
            ymax = max(ymax, max(col["prior"]))
        yrange_ = [-0.05 * ymax, 1.05 * ymax]
        ystep = col["ystep"][r]
        yt = major_ticks(yrange_[0], yrange_[1], ystep)
        dd = decimals(ystep)
        ytext = [f"{v:.{dd}f}" for v in yt]
        yminor = minor_ticks(yrange_[0], yrange_[1], ystep)
        bottom = (r == 5)

        layout["xaxis" if k == 1 else "xaxis%d" % k] = dict(
            domain=[fx(L), fx(R)], range=xrange_, anchor=ya, tickmode="array",
            tickvals=col["xt"], ticktext=col["xl"], showticklabels=bottom,
            ticks="outside" if bottom else "", ticklen=3, tickcolor=BORDER, tickwidth=1,
            tickfont=dict(size=9.5, color="#4D4D4D", family=FONT),
            showgrid=True, gridcolor=GRID_MAJOR, gridwidth=1,
            minor=dict(tickmode="array", tickvals=xminor, showgrid=True, gridcolor=GRID_MINOR, gridwidth=1),
            showline=True, mirror=True, linecolor=BORDER, linewidth=1, zeroline=False, fixedrange=True)
        layout["yaxis" if k == 1 else "yaxis%d" % k] = dict(
            domain=[fy(pbot), fy(ptop)], range=yrange_, anchor=xa, tickmode="array",
            tickvals=yt, ticktext=ytext, ticks="outside", ticklen=3, tickcolor=BORDER, tickwidth=1,
            tickfont=dict(size=9.5, color="#4D4D4D", family=FONT),
            showgrid=True, gridcolor=GRID_MAJOR, gridwidth=1,
            minor=dict(tickmode="array", tickvals=yminor, showgrid=True, gridcolor=GRID_MINOR, gridwidth=1),
            showline=True, mirror=True, linecolor=BORDER, linewidth=1, zeroline=False, fixedrange=True)

        # prior
        if col["prior"] is not None:
            fig.add_trace(go.Scatter(x=xs, y=[0] + list(col["prior"]) + [0], xaxis=xa, yaxis=ya,
                                     mode="lines", fill="tozeroy", fillcolor="rgba(128,128,128,0.32)",
                                     line=dict(color="black", width=1, shape="spline", smoothing=1),
                                     hoverinfo="skip"))
        for ci, ch in enumerate(dens):
            fig.add_trace(go.Scatter(x=xs, y=[0] + list(ch) + [0], xaxis=xa, yaxis=ya, mode="lines",
                                     line=dict(color=CHAIN_COLORS[ci], width=1, shape="spline", smoothing=1),
                                     hoverinfo="skip"))

        # strip
        shapes.append(dict(type="rect", xref="paper", yref="paper", x0=fx(L), x1=fx(R), y0=fy(ptop), y1=fy(S),
                           fillcolor="#B3B3B3", line=dict(width=0), layer="below"))
        annotations.append(dict(x=fx(L + PANEL_W / 2), y=fy(S + STRIP_H / 2), xref="paper", yref="paper",
                                text=PREL_LABELS[r], showarrow=False, xanchor="center", yanchor="middle",
                                font=dict(size=10.5, color="#1A1A1A", family=FONT)))
        # R label
        if col["r"] is not None:
            annotations.append(dict(x=fx(R - 3), y=fy(ptop + 0.5), xref="paper", yref="paper",
                                    text="R=%s" % col["r"][r], showarrow=False, xanchor="right", yanchor="top",
                                    font=dict(size=11.5, color="black", family=FONT),
                                    bgcolor="white", bordercolor="black", borderwidth=1, borderpad=1))

    # x-axis titles
    if X_TITLES[c] is not None:
        annotations.append(dict(x=fx(L + PANEL_W / 2), y=fy(649.3), xref="paper", yref="paper",
                                text=X_TITLES[c], showarrow=False, xanchor="center", yanchor="middle",
                                font=dict(size=11.5, color="black", family=FONT)))
    else:
        j = c - 6
        f0 = L + 2
        f1 = L + 61
        fc = (f0 + f1) / 2
        annotations.append(dict(x=fx(fc), y=fy(650), xref="paper", yref="paper", text=FRAC_NUM[j],
                                showarrow=False, xanchor="center", yanchor="middle",
                                font=dict(size=11, color="black", family=FONT)))
        annotations.append(dict(x=fx(fc), y=fy(668.3), xref="paper", yref="paper", text=FRAC_DEN,
                                showarrow=False, xanchor="center", yanchor="middle",
                                font=dict(size=11, color="black", family=FONT)))
        annotations.append(dict(x=fx(f1 + 2), y=fy(659.3), xref="paper", yref="paper", text=FRAC_REST[j],
                                showarrow=False, xanchor="left", yanchor="middle",
                                font=dict(size=11, color="black", family=FONT)))
        shapes.append(dict(type="line", xref="paper", yref="paper", x0=fx(f0), x1=fx(f1),
                           y0=fy(659.3), y1=fy(659.3), line=dict(color="black", width=1)))

layout["annotations"] = annotations
layout["shapes"] = shapes
fig.update_layout(**layout)
fig.write_html("out.html")
